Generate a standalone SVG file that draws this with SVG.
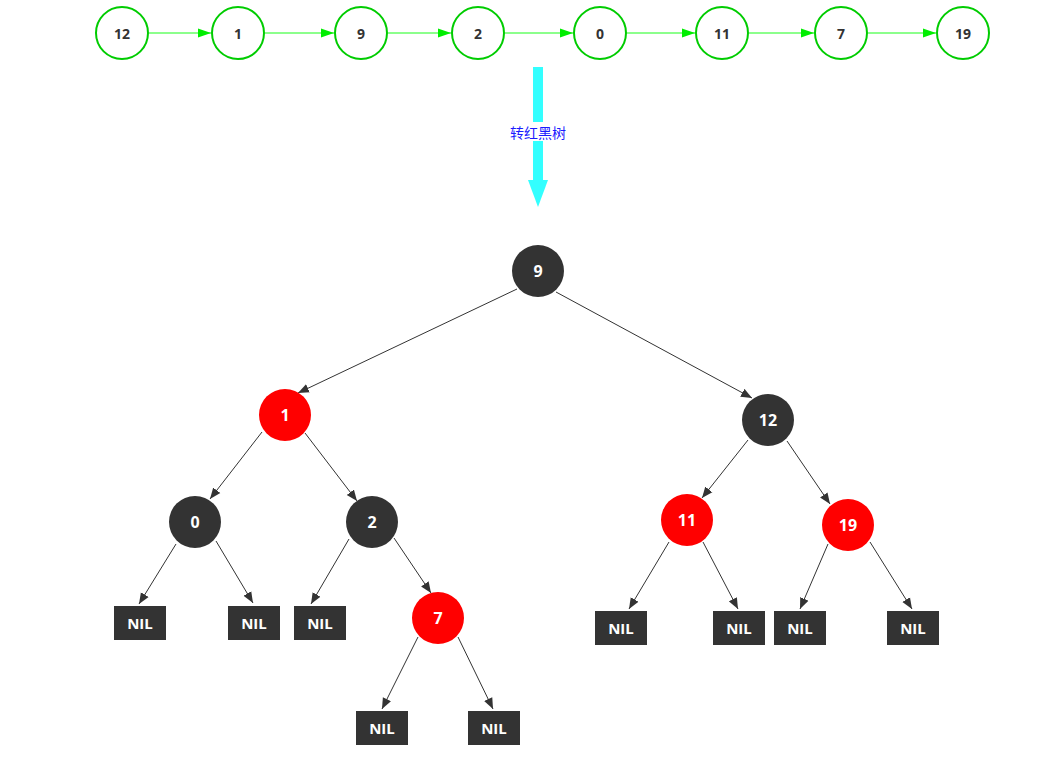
<svg xmlns="http://www.w3.org/2000/svg" width="1054" height="776" viewBox="0 0 1054 776">
<style>
.ln{fill:#fff;stroke:#00cc00;stroke-width:2}
.lt{font-family:"Open Sans","DejaVu Sans",sans-serif;font-weight:bold;font-size:14px;fill:#333;text-anchor:middle;dominant-baseline:central}
.ga{stroke:#66ff66;stroke-width:1.5;fill:none;marker-end:url(#ga)}
.b{fill:#333}
.r{fill:#ff0000}
.tt{font-family:"Open Sans","DejaVu Sans",sans-serif;font-weight:bold;font-size:16px;fill:#fff;text-anchor:middle;dominant-baseline:central}
.nt{font-family:"Open Sans","DejaVu Sans",sans-serif;font-weight:bold;font-size:15px;fill:#fff;text-anchor:middle;dominant-baseline:central}
.e{stroke:#333;stroke-width:1;fill:none;marker-end:url(#ea)}
</style>
<defs>
<marker id="ga" markerUnits="userSpaceOnUse" markerWidth="14" markerHeight="10" refX="13" refY="5" orient="auto"><path d="M0,0.5 L13,5 L0,9.5 z" fill="#00ee00"/></marker>
<marker id="ea" markerUnits="userSpaceOnUse" markerWidth="12" markerHeight="10" refX="11" refY="5" orient="auto"><path d="M0,0.5 L11,5 L0,9.5 z" fill="#333"/></marker>
</defs>
<rect width="1054" height="776" fill="#fff"/>
<g id="list-connectors">
<line class="ga" x1="149" y1="33" x2="211" y2="33"/>
<line class="ga" x1="265" y1="33" x2="334" y2="33"/>
<line class="ga" x1="388" y1="33" x2="451" y2="33"/>
<line class="ga" x1="505" y1="33" x2="573" y2="33"/>
<line class="ga" x1="627" y1="33" x2="695" y2="33"/>
<line class="ga" x1="749" y1="33" x2="814" y2="33"/>
<line class="ga" x1="868" y1="33" x2="936" y2="33"/>
</g>
<g id="l12"><circle class="ln" cx="122" cy="33" r="26"/><text class="lt" x="122" y="33">12</text></g>
<g id="l1"><circle class="ln" cx="238" cy="33" r="26"/><text class="lt" x="238" y="33">1</text></g>
<g id="l9"><circle class="ln" cx="361" cy="33" r="26"/><text class="lt" x="361" y="33">9</text></g>
<g id="l2"><circle class="ln" cx="478" cy="33" r="26"/><text class="lt" x="478" y="33">2</text></g>
<g id="l0"><circle class="ln" cx="600" cy="33" r="26"/><text class="lt" x="600" y="33">0</text></g>
<g id="l11"><circle class="ln" cx="722" cy="33" r="26"/><text class="lt" x="722" y="33">11</text></g>
<g id="l7"><circle class="ln" cx="841" cy="33" r="26"/><text class="lt" x="841" y="33">7</text></g>
<g id="l19"><circle class="ln" cx="963" cy="33" r="26"/><text class="lt" x="963" y="33">19</text></g>
<g id="convert">
<rect x="533" y="67" width="10" height="114" fill="#33ffff"/>
<path d="M528,180 L548,180 L538,207 z" fill="#33ffff"/>
<rect x="506" y="122" width="64" height="19" fill="#fff"/>
<text x="538" y="132" font-family="'Noto Sans CJK SC',sans-serif" font-size="14" fill="#1a1aff" text-anchor="middle" dominant-baseline="central">转红黑树</text>
</g>
<g id="tree-connectors">
<line class="e" x1="517" y1="289" x2="298" y2="393"/>
<line class="e" x1="556" y1="292" x2="752" y2="398"/>
<line class="e" x1="262" y1="432" x2="210" y2="499"/>
<line class="e" x1="305" y1="433" x2="357" y2="501"/>
<line class="e" x1="176" y1="544" x2="139" y2="604"/>
<line class="e" x1="216" y1="541" x2="253" y2="603"/>
<line class="e" x1="349" y1="539" x2="311" y2="604"/>
<line class="e" x1="394" y1="538" x2="431" y2="593"/>
<line class="e" x1="418" y1="637" x2="382" y2="709"/>
<line class="e" x1="458" y1="637" x2="493" y2="709"/>
<line class="e" x1="748" y1="440" x2="702" y2="498"/>
<line class="e" x1="787" y1="441" x2="830" y2="504"/>
<line class="e" x1="669" y1="542" x2="629" y2="609"/>
<line class="e" x1="703" y1="542" x2="738" y2="609"/>
<line class="e" x1="828" y1="544" x2="800" y2="609"/>
<line class="e" x1="870" y1="542" x2="912" y2="609"/>
</g>
<g id="t9"><circle class="b" cx="538" cy="271" r="26"/><text class="tt" x="538" y="271">9</text></g>
<g id="t1"><circle class="r" cx="285" cy="415" r="26"/><text class="tt" x="285" y="415">1</text></g>
<g id="t12"><circle class="b" cx="768" cy="420" r="26"/><text class="tt" x="768" y="420">12</text></g>
<g id="t0"><circle class="b" cx="195" cy="522" r="26"/><text class="tt" x="195" y="522">0</text></g>
<g id="t2"><circle class="b" cx="372" cy="522" r="26"/><text class="tt" x="372" y="522">2</text></g>
<g id="t11"><circle class="r" cx="687" cy="520" r="26"/><text class="tt" x="687" y="520">11</text></g>
<g id="t19"><circle class="r" cx="848" cy="525" r="26"/><text class="tt" x="848" y="525">19</text></g>
<g id="t7"><circle class="r" cx="438" cy="618" r="26"/><text class="tt" x="438" y="618">7</text></g>
<g id="nil1"><rect class="b" x="114" y="606" width="52" height="34"/><text class="nt" x="140" y="623">NIL</text></g>
<g id="nil2"><rect class="b" x="228" y="606" width="52" height="34"/><text class="nt" x="254" y="623">NIL</text></g>
<g id="nil3"><rect class="b" x="294" y="606" width="52" height="34"/><text class="nt" x="320" y="623">NIL</text></g>
<g id="nil4"><rect class="b" x="356" y="711" width="52" height="34"/><text class="nt" x="382" y="728">NIL</text></g>
<g id="nil5"><rect class="b" x="468" y="711" width="52" height="34"/><text class="nt" x="494" y="728">NIL</text></g>
<g id="nil6"><rect class="b" x="595" y="611" width="52" height="34"/><text class="nt" x="621" y="628">NIL</text></g>
<g id="nil7"><rect class="b" x="713" y="611" width="52" height="34"/><text class="nt" x="739" y="628">NIL</text></g>
<g id="nil8"><rect class="b" x="774" y="611" width="52" height="34"/><text class="nt" x="800" y="628">NIL</text></g>
<g id="nil9"><rect class="b" x="887" y="611" width="52" height="34"/><text class="nt" x="913" y="628">NIL</text></g>
</svg>
